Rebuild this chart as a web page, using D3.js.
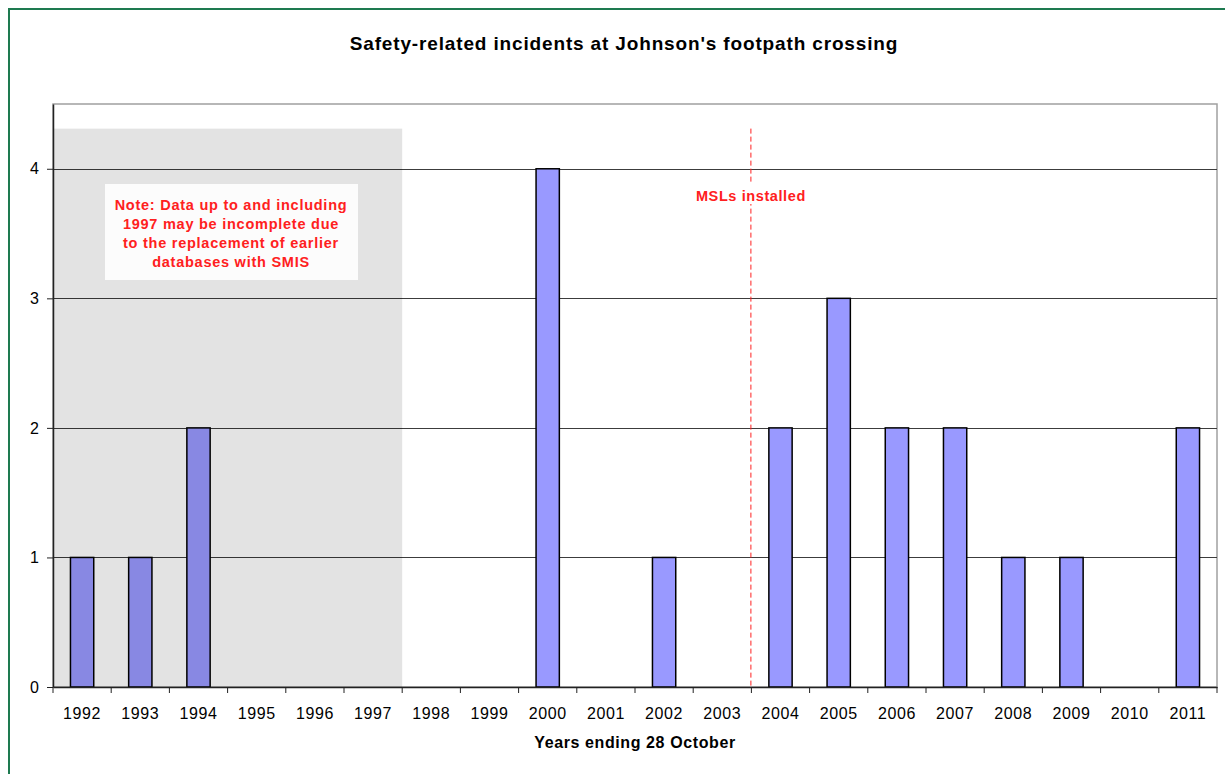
<!DOCTYPE html>
<html>
<head>
<meta charset="utf-8">
<script src="https://cdn.jsdelivr.net/npm/d3@7"></script>
<style>
  body { margin: 0; background: #fff; }
  svg { display: block; font-family: "Liberation Sans", Arial, sans-serif; }
</style>
</head>
<body>
<script>
var years = ["1992", "1993", "1994", "1995", "1996", "1997", "1998", "1999", "2000", "2001",
             "2002", "2003", "2004", "2005", "2006", "2007", "2008", "2009", "2010", "2011"];
var incidents = [1, 1, 2, 0, 0, 0, 0, 0, 4, 0, 1, 0, 2, 3, 2, 2, 1, 1, 0, 2];
var yTicks = [0, 1, 2, 3, 4];
var incompleteYears = ["1992", "1993", "1994", "1995", "1996", "1997"];
var installedBefore = "2004";
var noteLines = ["Note: Data up to and including", "1997 may be incomplete due",
                 "to the replacement of earlier", "databases with SMIS"];

var width = 1225, height = 774;
var plotLeft = 53, plotRight = 1217, plotTop = 104, plotBottom = 687;

var svg = d3.select("body").append("svg")
  .attr("width", width)
  .attr("height", height);

// outer chart border (green)
svg.append("rect")
  .attr("x", 9).attr("y", 9)
  .attr("width", 1240).attr("height", 800)
  .attr("fill", "none")
  .attr("stroke", "#1e7a50")
  .attr("stroke-width", 2);

var x = d3.scaleBand().domain(years).range([plotLeft, plotRight]).padding(0);
var y = d3.scaleLinear().domain([0, 4.5]).range([plotBottom, plotTop]);

// plot frame
svg.append("rect")
  .attr("x", plotLeft).attr("y", plotTop)
  .attr("width", plotRight - plotLeft).attr("height", plotBottom - plotTop)
  .attr("fill", "#fff")
  .attr("stroke", "#a0a0a0")
  .attr("stroke-width", 1.5);

// gridlines
svg.append("g").selectAll("line")
  .data(yTicks.filter(function(d) { return d > 0; }))
  .join("line")
    .attr("x1", plotLeft).attr("x2", plotRight)
    .attr("y1", function(d) { return Math.round(y(d)) + 0.5; })
    .attr("y2", function(d) { return Math.round(y(d)) + 0.5; })
    .attr("stroke", "#3c3c3c")
    .attr("stroke-width", 1);

// bars
var bw = x.bandwidth() * 0.4;
svg.append("g").selectAll("rect")
  .data(incidents.map(function(v, i) { return { year: years[i], value: v }; })
    .filter(function(d) { return d.value > 0; }))
  .join("rect")
    .attr("x", function(d) { return x(d.year) + (x.bandwidth() - bw) / 2; })
    .attr("y", function(d) { return y(d.value); })
    .attr("width", bw)
    .attr("height", function(d) { return y(0) - y(d.value); })
    .attr("fill", "#9999ff")
    .attr("stroke", "#000")
    .attr("stroke-width", 1.5);

// shaded "incomplete data" region
var shadeX0 = x(incompleteYears[0]);
var shadeX1 = x(incompleteYears[incompleteYears.length - 1]) + x.bandwidth();
svg.append("rect")
  .attr("x", shadeX0 + 1)
  .attr("y", y(4.31))
  .attr("width", shadeX1 - shadeX0 - 1)
  .attr("height", y(0) - y(4.31))
  .attr("fill", "#000")
  .attr("fill-opacity", 0.11);

// note box
svg.append("rect")
  .attr("x", 105).attr("y", 184)
  .attr("width", 253).attr("height", 96)
  .attr("fill", "#fcfcfc");

svg.append("g").selectAll("text")
  .data(noteLines)
  .join("text")
    .attr("x", 231)
    .attr("y", function(d, i) { return 210 + i * 19; })
    .attr("text-anchor", "middle")
    .attr("font-size", 14.5)
    .attr("font-weight", "bold")
    .attr("letter-spacing", 0.75)
    .attr("fill", "#ff2020")
    .text(function(d) { return d; });

// MSLs installed marker
var mslX = x(installedBefore) - 0.5;
svg.append("line")
  .attr("x1", mslX).attr("x2", mslX)
  .attr("y1", y(4.31)).attr("y2", y(0))
  .attr("stroke", "#ff2020")
  .attr("stroke-width", 1)
  .attr("stroke-dasharray", "5,3");

svg.append("rect")
  .attr("x", mslX - 60).attr("y", 184)
  .attr("width", 120).attr("height", 20)
  .attr("fill", "#fff");

svg.append("text")
  .attr("x", mslX)
  .attr("y", 201)
  .attr("text-anchor", "middle")
  .attr("font-size", 14.5)
  .attr("font-weight", "bold")
  .attr("letter-spacing", 0.6)
  .attr("fill", "#ff2020")
  .text("MSLs installed");

// axes
var yAxis = svg.append("g")
  .attr("transform", "translate(" + plotLeft + ",0)")
  .call(d3.axisLeft(y).tickValues(yTicks).tickSize(6).tickSizeOuter(0)
    .tickPadding(8).tickFormat(d3.format("d")));
yAxis.select(".domain").attr("stroke", "#222").attr("stroke-width", 1.5);
yAxis.selectAll(".tick line").attr("stroke", "#222");
yAxis.selectAll("text").attr("font-size", 16).attr("fill", "#000")
  .attr("font-family", "Liberation Sans, Arial, sans-serif");

var xAxis = svg.append("g")
  .attr("transform", "translate(0," + plotBottom + ")")
  .call(d3.axisBottom(x).tickSize(0).tickSizeOuter(0).tickPadding(21));
xAxis.select(".domain").attr("stroke", "#222").attr("stroke-width", 1.5);
xAxis.selectAll("text").attr("font-size", 16).attr("fill", "#000")
  .attr("letter-spacing", 0.6)
  .attr("font-family", "Liberation Sans, Arial, sans-serif");

// x ticks between categories
svg.append("g").selectAll("line")
  .data(years.concat(["end"]))
  .join("line")
    .attr("x1", function(d, i) { return plotLeft + i * x.step(); })
    .attr("x2", function(d, i) { return plotLeft + i * x.step(); })
    .attr("y1", plotBottom)
    .attr("y2", plotBottom + 6)
    .attr("stroke", "#222");

// titles
svg.append("text")
  .attr("x", 624).attr("y", 50)
  .attr("text-anchor", "middle")
  .attr("font-size", 19)
  .attr("font-weight", "bold")
  .attr("letter-spacing", 0.85)
  .text("Safety-related incidents at Johnson's footpath crossing");

svg.append("text")
  .attr("x", 635).attr("y", 748)
  .attr("text-anchor", "middle")
  .attr("font-size", 16)
  .attr("font-weight", "bold")
  .attr("letter-spacing", 0.6)
  .text("Years ending 28 October");
</script>
</body>
</html>
